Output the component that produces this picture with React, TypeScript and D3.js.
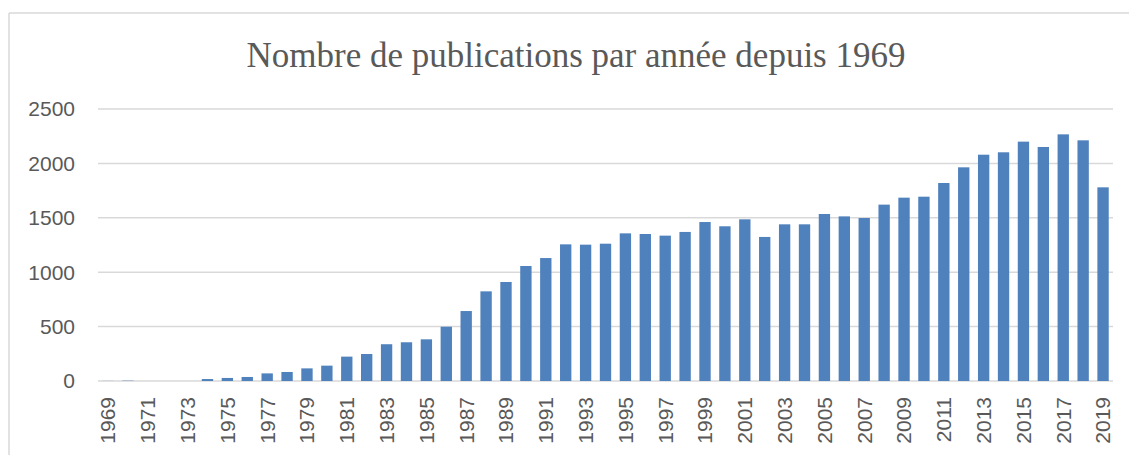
import * as d3 from "d3";
import React from "react";

// publications per year
const years: string[] = [
  "1969", "1970", "1971", "1972", "1973", "1974", "1975", "1976", "1977", "1978",
  "1979", "1980", "1981", "1982", "1983", "1984", "1985", "1986", "1987", "1988",
  "1989", "1990", "1991", "1992", "1993", "1994", "1995", "1996", "1997", "1998",
  "1999", "2000", "2001", "2002", "2003", "2004", "2005", "2006", "2007", "2008",
  "2009", "2010", "2011", "2012", "2013", "2014", "2015", "2016", "2017", "2018",
  "2019",
];

const publications: number[] = [
  1, 3, 0, 0, 0, 18, 28, 37, 70, 83,
  116, 141, 224, 248, 338, 356, 383, 499, 643, 824,
  910, 1057, 1130, 1256, 1253, 1262, 1357, 1351, 1336, 1370,
  1461, 1422, 1486, 1324, 1440, 1440, 1535, 1513, 1498, 1621,
  1685, 1694, 1820, 1964, 2080, 2102, 2200, 2151, 2267, 2212,
  1780,
];

const yTicks: number[] = [0, 500, 1000, 1500, 2000, 2500];

const title = "Nombre de publications par année depuis 1969";

const W = 1129;
const H = 455;

export default function App() {
  const x = d3
    .scaleBand<string>()
    .domain(years)
    .range([98, 1113])
    .paddingInner(0.43)
    .paddingOuter(0.215);

  const y = d3.scaleLinear().domain([0, 2500]).range([381, 109]);

  const grey = "#595959";
  const sans = "'Liberation Sans', Arial, sans-serif";

  return (
    <svg
      width={W}
      height={H}
      style={{ position: "absolute", left: 0, top: 0, background: "#fff" }}
    >
      {/* chart frame (only top and left visible) */}
      <line x1={9} x2={W} y1={13} y2={13} stroke="#d9d9d9" strokeWidth={1.5} />
      <line x1={9} x2={9} y1={13} y2={H} stroke="#d9d9d9" strokeWidth={1.5} />

      <text
        x={576}
        y={67}
        textAnchor="middle"
        fontFamily="'Liberation Serif', 'DejaVu Serif', serif"
        fontSize={35}
        fill={grey}
      >
        {title}
      </text>

      {/* gridlines + y labels */}
      {yTicks.map((t) => (
        <g key={t}>
          <line
            x1={98}
            x2={1113}
            y1={y(t)}
            y2={y(t)}
            stroke="#d9d9d9"
            strokeWidth={1.5}
          />
          <text
            x={75}
            y={y(t)}
            dy="0.35em"
            textAnchor="end"
            fontFamily={sans}
            fontSize={21}
            fill={grey}
          >
            {t}
          </text>
        </g>
      ))}

      {/* bars */}
      {years.map((yr, i) => (
        <rect
          key={yr}
          x={x(yr)}
          y={y(publications[i])}
          width={x.bandwidth()}
          height={y(0) - y(publications[i])}
          fill="#4f81bd"
        />
      ))}

      {/* x labels, every other year */}
      {years
        .filter((_, i) => i % 2 === 0)
        .map((yr) => {
          const cx = (x(yr) ?? 0) + x.bandwidth() / 2;
          return (
            <text
              key={yr}
              transform={`translate(${cx},397) rotate(-90)`}
              dy="0.35em"
              textAnchor="end"
              fontFamily={sans}
              fontSize={21}
              fill={grey}
            >
              {yr}
            </text>
          );
        })}
    </svg>
  );
}
